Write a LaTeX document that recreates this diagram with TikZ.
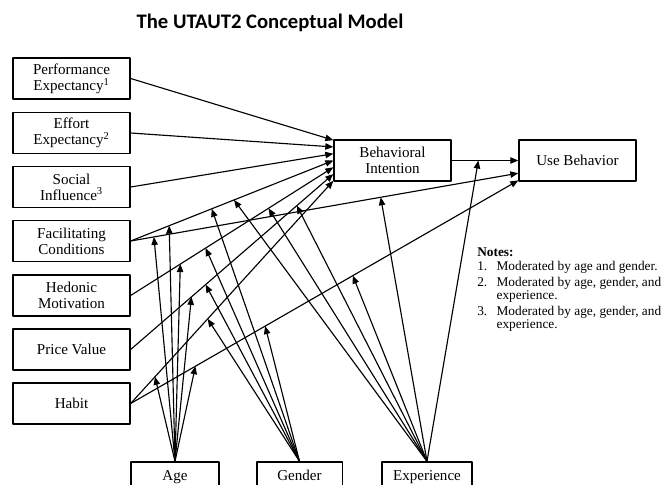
\documentclass[tikz,border=0pt]{standalone}
\usepackage{fontspec}
\setmainfont{Liberation Serif}
\newfontfamily\titlefont{Carlito}
\usetikzlibrary{arrows.meta,calc}

\begin{document}
\begin{tikzpicture}[x=0.75pt, y=-0.75pt, line join=round,
    box/.style={draw, line width=1pt, minimum width=87.75pt, minimum height=30.75pt,
        inner sep=0pt, align=center, font=\fontsize{11.3}{12.2}\selectfont},
    modbox/.style={box, minimum height=22.5pt, text height=7.6pt, text depth=2.4pt},
    arr/.style={-{Triangle[length=6pt,width=4.8pt]}, line width=0.85pt}]

    \useasboundingbox (0,0) rectangle (669,485);

    % Titre
    \node[font=\titlefont\bfseries\fontsize{15.5}{18}\selectfont] (title) at (270,23) {The UTAUT2 Conceptual Model};

    % Les construits
    \node[box] (pe) at (71.5,78.5) {Performance\\Expectancy\textsuperscript{1}};
    \node[box] (ee) at (71.5,133) {Effort\\Expectancy\textsuperscript{2}};
    \node[box] (si) at (71.5,187) {Social\\Influence\textsuperscript{3}};
    \node[box] (fc) at (71.5,241) {Facilitating\\Conditions};
    \node[box] (hm) at (71.5,295.5) {Hedonic\\Motivation};
    \node[box] (pv) at (71.5,349.5) {Price Value};
    \node[box] (ht) at (71.5,403.5) {Habit};

    \node[box] (bi) at (392.5,160.5) {Behavioral\\Intention};
    \node[box] (ub) at (577.5,160.5) {Use Behavior};

    % Les modérateurs
    \node[modbox, minimum width=66pt] (age) at (175,477) {Age};
    \node[modbox, minimum width=64pt] (gender) at (299.5,477) {Gender};
    \node[modbox, minimum width=67.5pt] (exp) at (427,477) {Experience};

    % Points d'arrivée sur les boites
    \foreach \k in {1,...,7}
        \coordinate (bi\k) at ($(bi.north west)!{0.16*\k-0.14}!(bi.south west)$);
    \coordinate (ub1) at (ub.west);
    \coordinate (ub2) at ($(ub.north west)!0.8!(ub.south west)$);
    \coordinate (ub3) at ($(ub.north west)!0.97!(ub.south west)$);

    % Relations
    \foreach \src [count=\k] in {pe,ee,si,fc,hm,pv,ht}
        \draw[arr] (\src.east) -- (bi\k);
    \draw[arr] (bi.east) -- (ub1);
    \draw[arr] (fc.east) -- (ub2);
    \draw[arr] (ht.east) -- (ub3);

    % Age
    \foreach \a/\b/\t in {fc/ub2/0.06, fc/bi4/0.19, hm/bi5/0.245, pv/bi6/0.30, ht/bi7/0.12, ht/ub3/0.167}
        \draw[arr] (age.north) -- ($(\a.east)!\t!(\b)$);
    % Gender
    \foreach \a/\b/\t in {fc/bi4/0.40, hm/bi5/0.37, pv/bi6/0.37, ht/bi7/0.38, ht/ub3/0.347}
        \draw[arr] (gender.north) -- ($(\a.east)!\t!(\b)$);
    % Experience
    \foreach \a/\b/\t in {fc/bi4/0.51, hm/bi5/0.68, pv/bi6/0.82, fc/ub2/0.645, ht/ub3/0.573, bi/ub1/0.4}
        \draw[arr] (exp.north) -- ($(\a.east)!\t!(\b)$);

    % Notes
    \node[anchor=north west, inner sep=0pt, font=\fontsize{10}{9.5}\selectfont] (notes) at (477,247) {%
        \begin{tabular}{@{}l@{\hspace{7pt}}l@{}}
        \multicolumn{2}{@{}l}{\textbf{Notes:}}\\[1pt]
        1. & Moderated by age and gender.\\[2.5pt]
        2. & Moderated by age, gender, and\\
           & experience.\\[2.5pt]
        3. & Moderated by age, gender, and\\
           & experience.
        \end{tabular}};

\end{tikzpicture}
\end{document}
